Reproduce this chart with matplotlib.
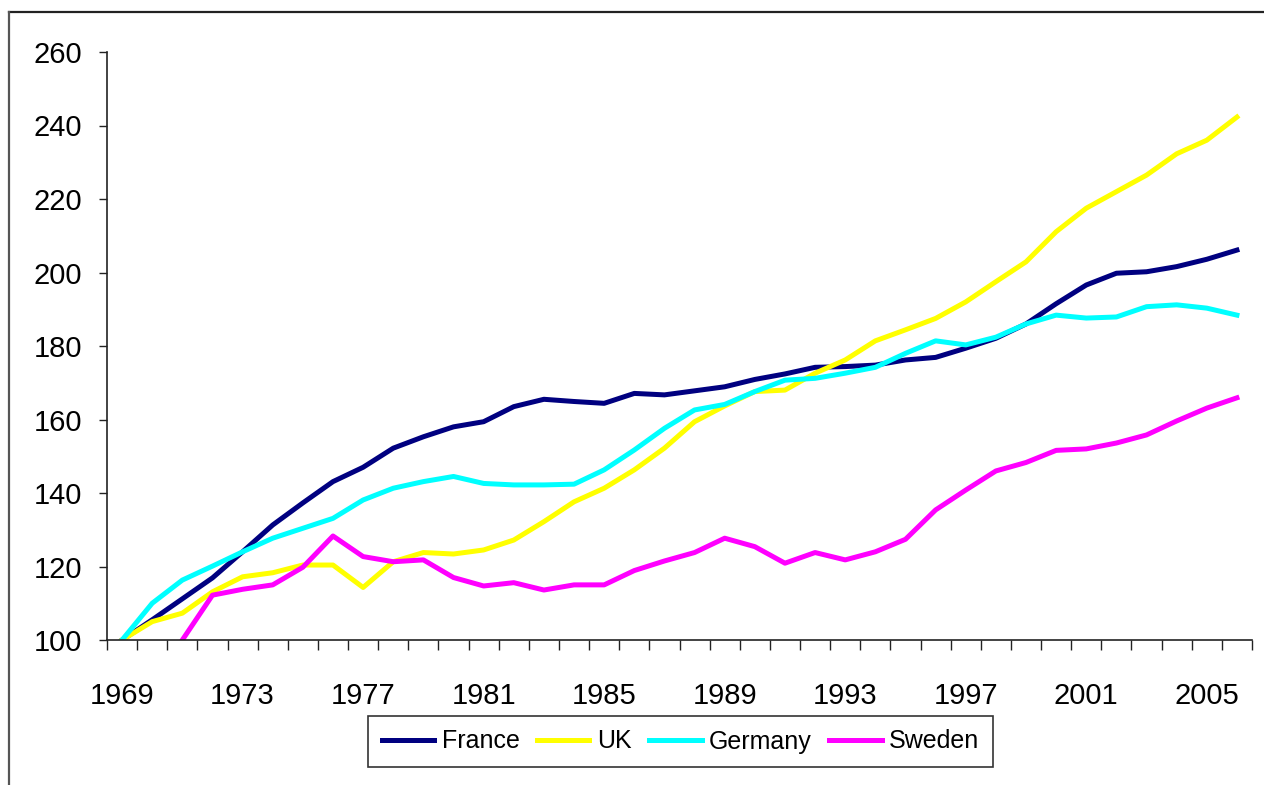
import numpy as np
import matplotlib
matplotlib.use("Agg")
import matplotlib.pyplot as plt
from matplotlib.lines import Line2D
from matplotlib.ticker import FixedLocator, MultipleLocator

years = np.arange(1969, 2007)

france = [100, 105.5, 111.2, 116.9, 124.0, 131.3, 137.3, 143.1, 147.0, 152.2,
          155.3, 158.0, 159.4, 163.5, 165.5, 164.9, 164.4, 167.1, 166.7, 167.8,
          168.9, 170.9, 172.4, 174.2, 174.4, 174.8, 176.2, 176.9, 179.4, 182.1,
          186.0, 191.5, 196.6, 199.8, 200.2, 201.6, 203.6, 206.1]
uk = [100, 105.0, 107.3, 113.1, 117.2, 118.3, 120.4, 120.4, 114.3, 121.3,
      123.8, 123.4, 124.5, 127.2, 132.2, 137.6, 141.3, 146.3, 152.2, 159.4,
      163.7, 167.6, 168.0, 172.6, 176.2, 181.4, 184.4, 187.5, 192.0, 197.5,
      202.9, 211.1, 217.5, 222.0, 226.5, 232.3, 236.0, 242.3]
germany = [100, 110.0, 116.3, 120.1, 124.0, 127.7, 130.4, 133.1, 138.1, 141.3,
           143.1, 144.5, 142.6, 142.2, 142.2, 142.4, 146.3, 151.7, 157.6, 162.6,
           164.1, 167.6, 170.7, 171.2, 172.6, 174.2, 178.0, 181.4, 180.3, 182.4,
           186.0, 188.4, 187.6, 187.9, 190.7, 191.2, 190.3, 188.4]
sweden = [np.nan, np.nan, 100.0, 112.2, 113.8, 115.0, 119.8, 128.3, 122.7, 121.3,
          121.8, 117.0, 114.7, 115.6, 113.6, 115.0, 115.0, 118.9, 121.5, 123.8,
          127.7, 125.4, 120.9, 123.8, 121.8, 124.0, 127.4, 135.4, 140.8, 146.0,
          148.3, 151.6, 152.0, 153.6, 155.8, 159.6, 163.1, 165.9]

series = [("France", france, "#000080"),
          ("UK", uk, "#FFFF00"),
          ("Germany", germany, "#00FFFF"),
          ("Sweden", sweden, "#FF00FF")]

font = ["Liberation Sans", "DejaVu Sans"]

W, H = 1264, 785
fig = plt.figure(figsize=(W / 100, H / 100), dpi=100)
ax = fig.add_axes([107 / W, (H - 640) / H, (1252 - 107) / W, 588 / H])

for name, vals, col in series:
    ax.plot(years, vals, color=col, lw=3.6, label=name, solid_joinstyle="round")

ax.set_xlim(1968.5, 2006.5)
ax.set_ylim(100, 260)
ax.set_yticks(np.arange(100, 261, 20))
ax.xaxis.set_major_locator(FixedLocator(np.arange(1969, 2007, 4)))
ax.xaxis.set_minor_locator(MultipleLocator(1, offset=0.5))
ax.tick_params(axis="x", which="major", length=0, pad=30)
ax.tick_params(axis="x", which="minor", length=7, width=1, direction="out", color="#222222")
ax.tick_params(axis="y", length=6, width=1, direction="out", pad=12, color="#222222")

for lab in ax.get_xticklabels() + ax.get_yticklabels():
    lab.set_family(font)
    lab.set_fontsize(21)

for s in ["top", "right"]:
    ax.spines[s].set_visible(False)
for s in ["left", "bottom"]:
    ax.spines[s].set_color("#222222")
    ax.spines[s].set_linewidth(1.2)

leg = fig.legend(loc="center", bbox_to_anchor=(680.5 / W, 43.5 / H), ncol=4,
                 frameon=True, fancybox=False, edgecolor="black",
                 prop={"family": font, "size": 18},
                 handlelength=2.1, handletextpad=0.3, columnspacing=0.7,
                 borderpad=0.55)
leg.get_frame().set_linewidth(1.2)

# outer chart frame (top and left edges visible)
fig.add_artist(Line2D([9 / W, 1.0], [1 - 12 / H, 1 - 12 / H], color="#222222", lw=1.6,
                      transform=fig.transFigure))
fig.add_artist(Line2D([9 / W, 9 / W], [0, 1 - 12 / H], color="#555555", lw=1.6,
                      transform=fig.transFigure))

fig.savefig("out.png", dpi=100)
